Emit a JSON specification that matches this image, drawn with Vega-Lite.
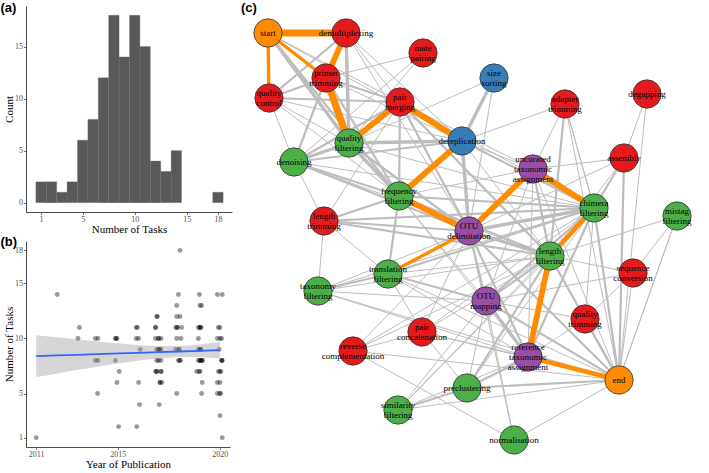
{
  "$schema": "https://vega.github.io/schema/vega-lite/v6.json",
  "padding": {"left": 0, "top": 2, "right": 0, "bottom": 0},
  "background": "white",
  "config": {
    "view": {"stroke": null},
    "axis": {
      "grid": false,
      "domainColor": "#000000",
      "domainWidth": 0.7,
      "tickColor": "#333333",
      "tickSize": 2.5,
      "tickWidth": 0.7,
      "labelFont": "Liberation Serif",
      "labelFontSize": 8,
      "labelColor": "#4d4d4d",
      "labelPadding": 1,
      "titleFont": "Liberation Serif",
      "titleFontSize": 11,
      "titleFontWeight": "normal",
      "titleColor": "#000000",
      "titlePadding": 0
    },
    "title": {"font": "Liberation Sans", "fontSize": 13, "fontWeight": "bold", "anchor": "start", "color": "#000000", "frame": "bounds"}
  },
  "datasets": {
    "papers": [
      {"year": 2011.0, "tasks": 1}, {"year": 2012.03, "tasks": 14}, {"year": 2013.05, "tasks": 10}, {"year": 2013.12, "tasks": 11},
      {"year": 2013.9, "tasks": 10}, {"year": 2014.03, "tasks": 10}, {"year": 2013.9, "tasks": 8}, {"year": 2014.03, "tasks": 8}, {"year": 2014.01, "tasks": 5},
      {"year": 2014.88, "tasks": 10}, {"year": 2014.96, "tasks": 10}, {"year": 2014.92, "tasks": 10}, {"year": 2014.88, "tasks": 8}, {"year": 2014.96, "tasks": 6}, {"year": 2015.07, "tasks": 7}, {"year": 2015.04, "tasks": 2},
      {"year": 2015.9, "tasks": 11}, {"year": 2015.97, "tasks": 11}, {"year": 2015.9, "tasks": 10}, {"year": 2016.02, "tasks": 10}, {"year": 2016.1, "tasks": 9}, {"year": 2016.02, "tasks": 6}, {"year": 2016.07, "tasks": 4}, {"year": 2015.93, "tasks": 2},
      {"year": 2016.85, "tasks": 11}, {"year": 2016.91, "tasks": 12}, {"year": 2016.94, "tasks": 12}, {"year": 2016.85, "tasks": 10}, {"year": 2016.99, "tasks": 10}, {"year": 2017.12, "tasks": 10},
      {"year": 2016.91, "tasks": 9}, {"year": 2017.04, "tasks": 9}, {"year": 2017.12, "tasks": 9}, {"year": 2016.91, "tasks": 8}, {"year": 2017.12, "tasks": 8},
      {"year": 2016.85, "tasks": 7}, {"year": 2016.91, "tasks": 7}, {"year": 2017.12, "tasks": 7}, {"year": 2017.07, "tasks": 6}, {"year": 2017.16, "tasks": 6}, {"year": 2017.03, "tasks": 4},
      {"year": 2018.05, "tasks": 18}, {"year": 2017.97, "tasks": 14}, {"year": 2017.89, "tasks": 13}, {"year": 2017.89, "tasks": 12}, {"year": 2018.05, "tasks": 12},
      {"year": 2017.84, "tasks": 11}, {"year": 2017.92, "tasks": 11}, {"year": 2018.13, "tasks": 11}, {"year": 2017.89, "tasks": 10}, {"year": 2018.1, "tasks": 10},
      {"year": 2017.84, "tasks": 9}, {"year": 2018.0, "tasks": 9}, {"year": 2017.97, "tasks": 8}, {"year": 2018.05, "tasks": 8}, {"year": 2017.89, "tasks": 5},
      {"year": 2019.0, "tasks": 14}, {"year": 2019.03, "tasks": 13}, {"year": 2019.11, "tasks": 13}, {"year": 2018.95, "tasks": 11}, {"year": 2019.03, "tasks": 11}, {"year": 2019.08, "tasks": 11},
      {"year": 2018.95, "tasks": 10}, {"year": 2018.95, "tasks": 9}, {"year": 2019.03, "tasks": 9}, {"year": 2019.08, "tasks": 9},
      {"year": 2018.95, "tasks": 8}, {"year": 2019.03, "tasks": 8}, {"year": 2019.11, "tasks": 8}, {"year": 2019.16, "tasks": 8},
      {"year": 2018.87, "tasks": 7}, {"year": 2018.99, "tasks": 7}, {"year": 2019.14, "tasks": 6}, {"year": 2019.11, "tasks": 5},
      {"year": 2019.88, "tasks": 14}, {"year": 2020.12, "tasks": 14}, {"year": 2019.93, "tasks": 11}, {"year": 2020.01, "tasks": 11},
      {"year": 2019.88, "tasks": 10}, {"year": 2020.01, "tasks": 10}, {"year": 2020.09, "tasks": 10}, {"year": 2019.97, "tasks": 9},
      {"year": 2020.09, "tasks": 8}, {"year": 2020.12, "tasks": 8}, {"year": 2019.93, "tasks": 7}, {"year": 2020.01, "tasks": 7},
      {"year": 2019.88, "tasks": 6}, {"year": 2020.01, "tasks": 6}, {"year": 2019.88, "tasks": 5}, {"year": 2020.01, "tasks": 5}, {"year": 2020.01, "tasks": 3}, {"year": 2020.12, "tasks": 1},
      {"year": 2020.03, "tasks": 5}, {"year": 2017.07, "tasks": 6},
      {"year": 2016.91, "tasks": 7}, {"year": 2019.03, "tasks": 7}, {"year": 2020.05, "tasks": 7}, {"year": 2017.12, "tasks": 7},
      {"year": 2019.03, "tasks": 8}, {"year": 2019.11, "tasks": 8}, {"year": 2020.1, "tasks": 8}, {"year": 2018.05, "tasks": 8}, {"year": 2017.0, "tasks": 8},
      {"year": 2017.0, "tasks": 9}, {"year": 2019.03, "tasks": 9}, {"year": 2018.0, "tasks": 9}, {"year": 2017.04, "tasks": 9},
      {"year": 2017.0, "tasks": 10},
      {"year": 2017.92, "tasks": 11}, {"year": 2019.03, "tasks": 11}, {"year": 2016.85, "tasks": 11}
    ],
    "fit": [
      {"year": 2011, "fit": 8.40, "lo": 6.50, "hi": 10.30},
      {"year": 2012, "fit": 8.46, "lo": 6.81, "hi": 10.11},
      {"year": 2013, "fit": 8.52, "lo": 7.13, "hi": 9.91},
      {"year": 2014, "fit": 8.58, "lo": 7.43, "hi": 9.73},
      {"year": 2015, "fit": 8.64, "lo": 7.72, "hi": 9.56},
      {"year": 2016, "fit": 8.70, "lo": 7.99, "hi": 9.41},
      {"year": 2017, "fit": 8.76, "lo": 8.21, "hi": 9.31},
      {"year": 2018, "fit": 8.82, "lo": 8.32, "hi": 9.32},
      {"year": 2019, "fit": 8.88, "lo": 8.30, "hi": 9.46},
      {"year": 2020, "fit": 8.94, "lo": 8.19, "hi": 9.69}
    ],
    "nodes": [
      {"name": "start", "label": "start", "group": "terminal", "x": 17, "y": 427},
      {"name": "demux", "label": "demultiplexing", "group": "processing", "x": 95, "y": 427},
      {"name": "mate", "label": "mate\npairing", "group": "processing", "x": 172, "y": 407},
      {"name": "primer", "label": "primer\ntrimming", "group": "processing", "x": 75, "y": 382},
      {"name": "qc", "label": "quality\ncontrol", "group": "processing", "x": 18, "y": 362},
      {"name": "pairmerge", "label": "pair\nmerging", "group": "processing", "x": 149, "y": 358},
      {"name": "size", "label": "size\nsorting", "group": "dereplication", "x": 243, "y": 382},
      {"name": "adapter", "label": "adapter\ntrimming", "group": "processing", "x": 314, "y": 356},
      {"name": "degap", "label": "degapping", "group": "processing", "x": 396, "y": 366},
      {"name": "qfilt", "label": "quality\nfiltering", "group": "filtering", "x": 98, "y": 317},
      {"name": "denoise", "label": "denoising", "group": "filtering", "x": 43, "y": 298},
      {"name": "derep", "label": "dereplication", "group": "dereplication", "x": 211, "y": 319},
      {"name": "uncur", "label": "uncurated\ntaxonomic\nassignment", "group": "assignment", "x": 282, "y": 291},
      {"name": "assembly", "label": "assembly", "group": "processing", "x": 373, "y": 302},
      {"name": "freq", "label": "frequency\nfiltering", "group": "filtering", "x": 148, "y": 264},
      {"name": "chimera", "label": "chimera\nfiltering", "group": "filtering", "x": 343, "y": 252},
      {"name": "mistag", "label": "mistag\nfiltering", "group": "filtering", "x": 426, "y": 244},
      {"name": "lentrim", "label": "length\ntrimming", "group": "processing", "x": 73, "y": 239},
      {"name": "otu", "label": "OTU\ndelimitation", "group": "assignment", "x": 218, "y": 229},
      {"name": "lenfilt", "label": "length\nfiltering", "group": "filtering", "x": 299, "y": 204},
      {"name": "transl", "label": "translation\nfiltering", "group": "filtering", "x": 137, "y": 186},
      {"name": "taxfilt", "label": "taxonomy\nfiltering", "group": "filtering", "x": 67, "y": 169},
      {"name": "seqconv", "label": "sequence\nconversion", "group": "processing", "x": 382, "y": 187},
      {"name": "otumap", "label": "OTU\nmapping", "group": "assignment", "x": 235, "y": 159},
      {"name": "qtrim", "label": "quality\ntrimming", "group": "processing", "x": 334, "y": 141},
      {"name": "paircat", "label": "pair\nconcatenation", "group": "processing", "x": 171, "y": 128},
      {"name": "revcomp", "label": "reverse\ncomplementation", "group": "processing", "x": 102, "y": 109},
      {"name": "reftax", "label": "reference\ntaxonomic\nassignment", "group": "assignment", "x": 277, "y": 103},
      {"name": "end", "label": "end", "group": "terminal", "x": 368, "y": 80},
      {"name": "preclust", "label": "preclustering", "group": "filtering", "x": 216, "y": 72},
      {"name": "simfilt", "label": "similarity\nfiltering", "group": "filtering", "x": 147, "y": 50},
      {"name": "norm", "label": "normalisation", "group": "filtering", "x": 263, "y": 20}
    ],
    "edges": [
      {"from": "start", "to": "qfilt", "w": 3}, {"from": "start", "to": "pairmerge", "w": 1}, {"from": "start", "to": "freq", "w": 2}, {"from": "start", "to": "derep", "w": 1},
      {"from": "qc", "to": "demux", "w": 2}, {"from": "qc", "to": "primer", "w": 2}, {"from": "qc", "to": "pairmerge", "w": 2}, {"from": "qc", "to": "qfilt", "w": 1},
      {"from": "qc", "to": "derep", "w": 1}, {"from": "qc", "to": "denoise", "w": 1}, {"from": "qc", "to": "freq", "w": 1},
      {"from": "demux", "to": "pairmerge", "w": 1}, {"from": "demux", "to": "qfilt", "w": 3}, {"from": "demux", "to": "derep", "w": 1}, {"from": "demux", "to": "otu", "w": 1},
      {"from": "primer", "to": "pairmerge", "w": 2}, {"from": "primer", "to": "denoise", "w": 2}, {"from": "primer", "to": "derep", "w": 1}, {"from": "primer", "to": "freq", "w": 2}, {"from": "primer", "to": "mate", "w": 1},
      {"from": "qfilt", "to": "mate", "w": 1}, {"from": "denoise", "to": "mate", "w": 1},
      {"from": "qfilt", "to": "denoise", "w": 3}, {"from": "qfilt", "to": "derep", "w": 3}, {"from": "qfilt", "to": "freq", "w": 3}, {"from": "qfilt", "to": "otu", "w": 2}, {"from": "qfilt", "to": "chimera", "w": 1}, {"from": "qfilt", "to": "size", "w": 1},
      {"from": "pairmerge", "to": "denoise", "w": 2}, {"from": "pairmerge", "to": "freq", "w": 2}, {"from": "pairmerge", "to": "otu", "w": 2}, {"from": "pairmerge", "to": "lentrim", "w": 1},
      {"from": "pairmerge", "to": "lenfilt", "w": 2}, {"from": "pairmerge", "to": "uncur", "w": 1}, {"from": "pairmerge", "to": "chimera", "w": 1},
      {"from": "derep", "to": "size", "w": 3}, {"from": "derep", "to": "otu", "w": 3}, {"from": "derep", "to": "chimera", "w": 2}, {"from": "derep", "to": "uncur", "w": 1}, {"from": "derep", "to": "lenfilt", "w": 1}, {"from": "derep", "to": "adapter", "w": 1},
      {"from": "size", "to": "otu", "w": 1},
      {"from": "denoise", "to": "freq", "w": 2}, {"from": "denoise", "to": "otu", "w": 2}, {"from": "denoise", "to": "chimera", "w": 1}, {"from": "denoise", "to": "derep", "w": 2}, {"from": "denoise", "to": "lentrim", "w": 1}, {"from": "denoise", "to": "lenfilt", "w": 1},
      {"from": "freq", "to": "transl", "w": 2}, {"from": "freq", "to": "lentrim", "w": 2}, {"from": "freq", "to": "lenfilt", "w": 2}, {"from": "freq", "to": "otumap", "w": 1}, {"from": "freq", "to": "chimera", "w": 2}, {"from": "freq", "to": "uncur", "w": 1}, {"from": "freq", "to": "reftax", "w": 1},
      {"from": "otu", "to": "lenfilt", "w": 3}, {"from": "otu", "to": "chimera", "w": 3}, {"from": "otu", "to": "otumap", "w": 2}, {"from": "otu", "to": "lentrim", "w": 2}, {"from": "otu", "to": "taxfilt", "w": 1},
      {"from": "otu", "to": "reftax", "w": 2}, {"from": "otu", "to": "end", "w": 2}, {"from": "otu", "to": "assembly", "w": 1}, {"from": "otu", "to": "norm", "w": 1}, {"from": "otu", "to": "revcomp", "w": 1}, {"from": "otu", "to": "paircat", "w": 1},
      {"from": "chimera", "to": "otu", "w": 2}, {"from": "chimera", "to": "uncur", "w": 1}, {"from": "chimera", "to": "adapter", "w": 1}, {"from": "chimera", "to": "assembly", "w": 2}, {"from": "chimera", "to": "otumap", "w": 2},
      {"from": "chimera", "to": "reftax", "w": 2}, {"from": "chimera", "to": "end", "w": 2}, {"from": "chimera", "to": "qtrim", "w": 1}, {"from": "chimera", "to": "transl", "w": 2}, {"from": "chimera", "to": "lentrim", "w": 2},
      {"from": "chimera", "to": "taxfilt", "w": 1}, {"from": "chimera", "to": "revcomp", "w": 1}, {"from": "chimera", "to": "paircat", "w": 1}, {"from": "chimera", "to": "preclust", "w": 1}, {"from": "chimera", "to": "simfilt", "w": 1},
      {"from": "uncur", "to": "lenfilt", "w": 2}, {"from": "uncur", "to": "reftax", "w": 1}, {"from": "uncur", "to": "end", "w": 1}, {"from": "uncur", "to": "adapter", "w": 1}, {"from": "uncur", "to": "assembly", "w": 1}, {"from": "uncur", "to": "otumap", "w": 1},
      {"from": "adapter", "to": "lenfilt", "w": 2}, {"from": "adapter", "to": "end", "w": 1}, {"from": "adapter", "to": "chimera", "w": 1},
      {"from": "assembly", "to": "degap", "w": 1}, {"from": "assembly", "to": "end", "w": 2}, {"from": "degap", "to": "end", "w": 1},
      {"from": "lenfilt", "to": "chimera", "w": 2}, {"from": "lenfilt", "to": "otumap", "w": 2}, {"from": "lenfilt", "to": "end", "w": 2}, {"from": "lenfilt", "to": "qtrim", "w": 1}, {"from": "lenfilt", "to": "seqconv", "w": 1},
      {"from": "lenfilt", "to": "assembly", "w": 1}, {"from": "lenfilt", "to": "mistag", "w": 1}, {"from": "lenfilt", "to": "lentrim", "w": 2}, {"from": "lenfilt", "to": "taxfilt", "w": 1}, {"from": "lenfilt", "to": "transl", "w": 1},
      {"from": "lenfilt", "to": "revcomp", "w": 1}, {"from": "lenfilt", "to": "paircat", "w": 1}, {"from": "lenfilt", "to": "preclust", "w": 2}, {"from": "lenfilt", "to": "simfilt", "w": 1}, {"from": "lenfilt", "to": "adapter", "w": 1},
      {"from": "transl", "to": "otumap", "w": 2}, {"from": "transl", "to": "reftax", "w": 1}, {"from": "transl", "to": "taxfilt", "w": 2}, {"from": "transl", "to": "paircat", "w": 1}, {"from": "transl", "to": "end", "w": 1}, {"from": "transl", "to": "lentrim", "w": 1},
      {"from": "taxfilt", "to": "lentrim", "w": 1}, {"from": "taxfilt", "to": "reftax", "w": 1}, {"from": "taxfilt", "to": "end", "w": 1},
      {"from": "otumap", "to": "reftax", "w": 3}, {"from": "otumap", "to": "end", "w": 2}, {"from": "otumap", "to": "qtrim", "w": 1}, {"from": "otumap", "to": "seqconv", "w": 1}, {"from": "otumap", "to": "simfilt", "w": 1},
      {"from": "otumap", "to": "norm", "w": 1}, {"from": "otumap", "to": "taxfilt", "w": 1}, {"from": "otumap", "to": "preclust", "w": 1},
      {"from": "qtrim", "to": "end", "w": 2}, {"from": "qtrim", "to": "seqconv", "w": 1}, {"from": "seqconv", "to": "end", "w": 1}, {"from": "seqconv", "to": "mistag", "w": 1}, {"from": "mistag", "to": "end", "w": 1},
      {"from": "reftax", "to": "qtrim", "w": 1}, {"from": "reftax", "to": "preclust", "w": 2},
      {"from": "paircat", "to": "preclust", "w": 1}, {"from": "paircat", "to": "reftax", "w": 1}, {"from": "paircat", "to": "end", "w": 1},
      {"from": "revcomp", "to": "end", "w": 1}, {"from": "revcomp", "to": "norm", "w": 1}, {"from": "revcomp", "to": "paircat", "w": 1},
      {"from": "preclust", "to": "simfilt", "w": 2}, {"from": "preclust", "to": "end", "w": 2}, {"from": "simfilt", "to": "end", "w": 1}, {"from": "simfilt", "to": "reftax", "w": 1},
      {"from": "norm", "to": "end", "w": 1}, {"from": "end", "to": "mistag", "w": 1}
    ],
    "path": [
      {"from": "start", "to": "demux", "w": 6}, {"from": "start", "to": "qc", "w": 3}, {"from": "start", "to": "primer", "w": 3},
      {"from": "demux", "to": "primer", "w": 5}, {"from": "primer", "to": "qfilt", "w": 6}, {"from": "qfilt", "to": "pairmerge", "w": 5},
      {"from": "pairmerge", "to": "derep", "w": 5}, {"from": "derep", "to": "freq", "w": 5}, {"from": "freq", "to": "otu", "w": 5},
      {"from": "otu", "to": "uncur", "w": 5}, {"from": "uncur", "to": "chimera", "w": 5}, {"from": "chimera", "to": "lenfilt", "w": 4},
      {"from": "lenfilt", "to": "reftax", "w": 5}, {"from": "reftax", "to": "end", "w": 4}, {"from": "otu", "to": "transl", "w": 3}
    ]
  },
  "hconcat": [
    {
      "vconcat": [
        {
          "title": {"text": "(a)", "offset": -9, "dx": -3},
          "width": 206,
          "height": 206,
          "data": {"name": "papers"},
          "transform": [
            {"bin": {"step": 1, "extent": [0.5, 18.5], "nice": false}, "field": "tasks", "as": ["b0", "b1"]},
            {"aggregate": [{"op": "count", "as": "n"}], "groupby": ["b0", "b1"]}
          ],
          "mark": {"type": "bar", "color": "#595959", "stroke": "#6a6a6a", "strokeWidth": 0.3},
          "encoding": {
            "x": {"field": "b0", "type": "quantitative", "scale": {"domain": [-0.45, 19.35], "nice": false, "zero": false},
                  "axis": {"values": [1, 5, 10, 15, 18], "title": "Number of Tasks"}},
            "x2": {"field": "b1"},
            "y": {"field": "n", "type": "quantitative", "scale": {"domain": [-0.9, 18.9], "nice": false, "zero": false},
                  "axis": {"values": [0, 5, 10, 15], "title": "Count"}},
            "y2": {"datum": 0}
          }
        },
        {
          "title": {"text": "(b)", "offset": -8, "dx": -3},
          "width": 204,
          "height": 206,
          "layer": [
            {
              "data": {"name": "papers"},
              "mark": {"type": "circle", "size": 24, "color": "#000000", "opacity": 0.4},
              "encoding": {
                "x": {"field": "year", "type": "quantitative", "scale": {"domain": [2010.5, 2020.5], "nice": false, "zero": false},
                      "axis": {"values": [2011, 2015, 2020], "format": "d", "title": "Year of Publication"}},
                "y": {"field": "tasks", "type": "quantitative", "scale": {"domain": [0.15, 18.85], "nice": false, "zero": false},
                      "axis": {"values": [1, 5, 10, 15, 18], "title": "Number of Tasks"}}
              }
            },
            {
              "data": {"name": "fit"},
              "mark": {"type": "area", "color": "#999999", "opacity": 0.4, "interpolate": "monotone"},
              "encoding": {
                "x": {"field": "year", "type": "quantitative"},
                "y": {"field": "lo", "type": "quantitative"},
                "y2": {"field": "hi"}
              }
            },
            {
              "data": {"name": "fit"},
              "mark": {"type": "line", "color": "#3366FF", "strokeWidth": 1.8},
              "encoding": {
                "x": {"field": "year", "type": "quantitative"},
                "y": {"field": "fit", "type": "quantitative"}
              }
            }
          ]
        }
      ],
      "spacing": 1
    },
    {
      "title": {"text": "(c)", "offset": -9, "dx": -10},
      "width": 450,
      "height": 460,
      "layer": [
        {
          "data": {"name": "edges"},
          "transform": [
            {"lookup": "from", "from": {"data": {"name": "nodes"}, "key": "name", "fields": ["x", "y"]}, "as": ["x1", "y1"]},
            {"lookup": "to", "from": {"data": {"name": "nodes"}, "key": "name", "fields": ["x", "y"]}, "as": ["x2", "y2"]}
          ],
          "mark": {"type": "rule", "color": "#bdbdbd", "strokeCap": "butt"},
          "encoding": {
            "x": {"field": "x1", "type": "quantitative", "scale": {"domain": [0, 450], "nice": false, "zero": false}, "axis": null},
            "y": {"field": "y1", "type": "quantitative", "scale": {"domain": [-6, 454], "nice": false, "zero": false}, "axis": null},
            "x2": {"field": "x2"},
            "y2": {"field": "y2"},
            "strokeWidth": {"field": "w", "type": "quantitative", "scale": {"domain": [1, 6], "range": [1, 7]}, "legend": null}
          }
        },
        {
          "data": {"name": "path"},
          "transform": [
            {"lookup": "from", "from": {"data": {"name": "nodes"}, "key": "name", "fields": ["x", "y"]}, "as": ["x1", "y1"]},
            {"lookup": "to", "from": {"data": {"name": "nodes"}, "key": "name", "fields": ["x", "y"]}, "as": ["x2", "y2"]}
          ],
          "mark": {"type": "rule", "color": "#ff8c00", "strokeCap": "butt"},
          "encoding": {
            "x": {"field": "x1", "type": "quantitative"},
            "y": {"field": "y1", "type": "quantitative"},
            "x2": {"field": "x2"},
            "y2": {"field": "y2"},
            "strokeWidth": {"field": "w", "type": "quantitative", "scale": {"domain": [1, 6], "range": [1, 7]}, "legend": null}
          }
        },
        {
          "data": {"name": "nodes"},
          "mark": {"type": "point", "shape": "circle", "filled": true, "size": 800, "stroke": "#333333", "strokeWidth": 0.8, "opacity": 1},
          "encoding": {
            "x": {"field": "x", "type": "quantitative"},
            "y": {"field": "y", "type": "quantitative"},
            "fill": {"field": "group", "type": "nominal", "legend": null,
                     "scale": {"domain": ["terminal", "processing", "dereplication", "filtering", "assignment"],
                               "range": ["#ff8c00", "#e41a1c", "#377eb8", "#4daf4a", "#984ea3"]}}
          }
        },
        {
          "data": {"name": "nodes"},
          "transform": [{"filter": "!test(/\\n/, datum.label)"}],
          "mark": {"type": "text", "font": "Liberation Serif", "fontSize": 9, "fill": "#000000", "align": "center", "baseline": "middle"},
          "encoding": {
            "x": {"field": "x", "type": "quantitative"},
            "y": {"field": "y", "type": "quantitative"},
            "text": {"field": "label"}
          }
        },
        {
          "data": {"name": "nodes"},
          "transform": [{"filter": "test(/\\n/, datum.label) && !test(/\\n.*\\n/, datum.label)"}],
          "mark": {"type": "text", "font": "Liberation Serif", "fontSize": 9, "fill": "#000000", "lineBreak": "\n", "lineHeight": 10, "align": "center", "baseline": "middle", "dy": -5},
          "encoding": {
            "x": {"field": "x", "type": "quantitative"},
            "y": {"field": "y", "type": "quantitative"},
            "text": {"field": "label"}
          }
        },
        {
          "data": {"name": "nodes"},
          "transform": [{"filter": "test(/\\n.*\\n/, datum.label)"}],
          "mark": {"type": "text", "font": "Liberation Serif", "fontSize": 9, "fill": "#000000", "lineBreak": "\n", "lineHeight": 10, "align": "center", "baseline": "middle", "dy": -10},
          "encoding": {
            "x": {"field": "x", "type": "quantitative"},
            "y": {"field": "y", "type": "quantitative"},
            "text": {"field": "label"}
          }
        }
      ]
    }
  ],
  "spacing": 9
}
